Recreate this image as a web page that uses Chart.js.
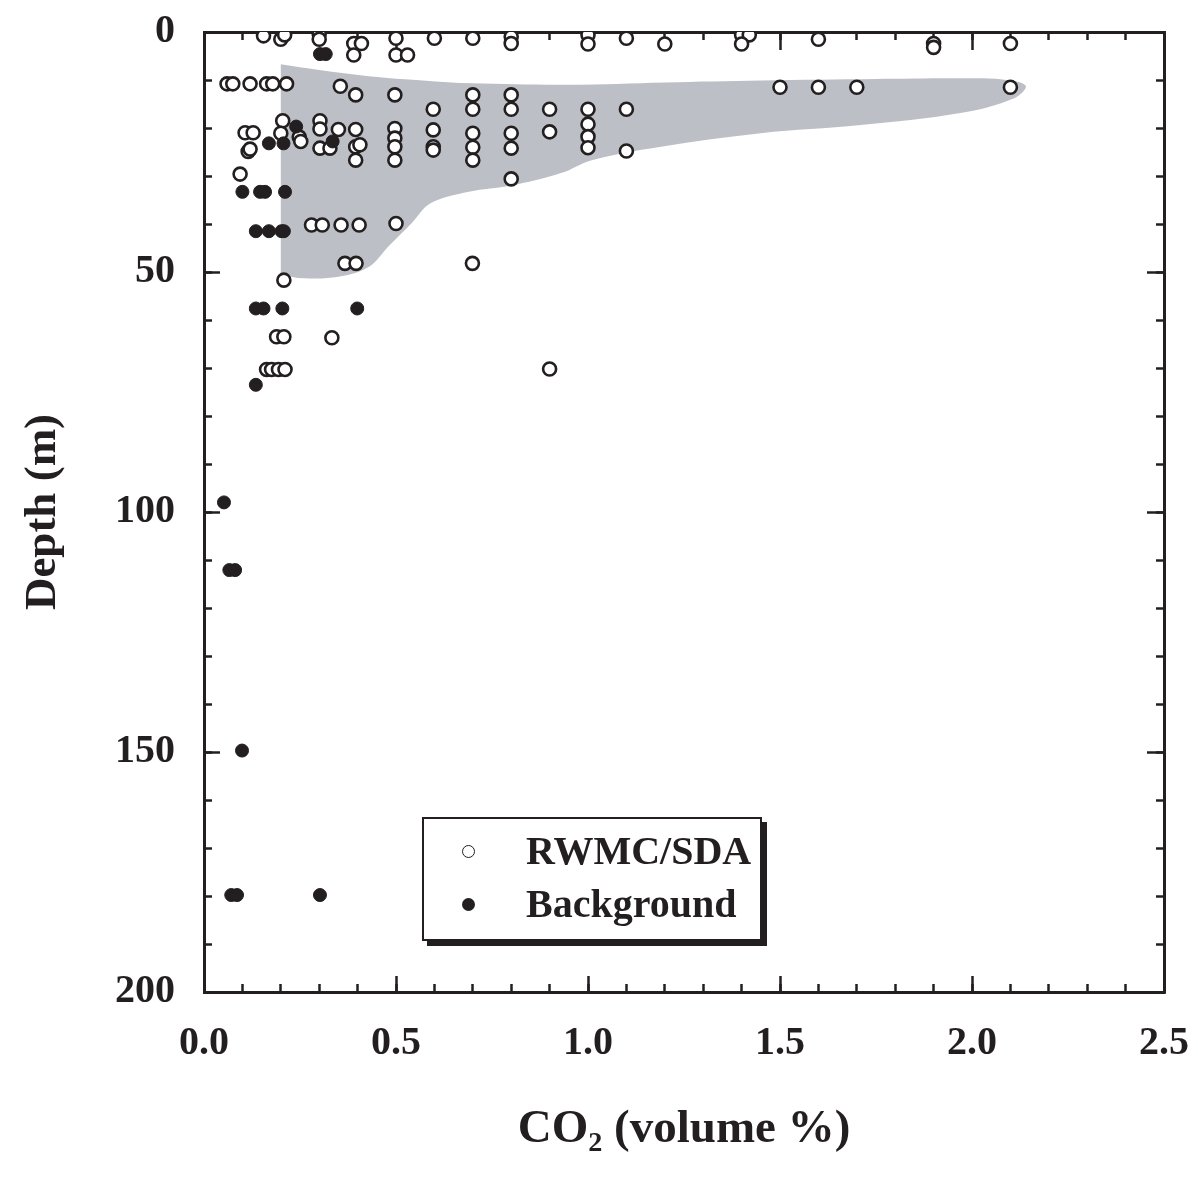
<!DOCTYPE html>
<html>
<head>
<meta charset="utf-8">
<script src="https://cdn.jsdelivr.net/npm/chart.js@4.4.1/dist/chart.umd.min.js"></script>
<style>
  body { margin: 0; background: #fff; }
  #wrap { position: relative; width: 1198px; height: 1178px; }
  #legend {
    position: absolute; left: 422px; top: 817px; width: 340px; height: 124px;
    box-sizing: border-box; border: 2px solid #231f20; box-shadow: 5px 5px 0 #231f20;
    background: #fff; color: #231f20;
    font: bold 40px 'Liberation Serif', 'Times New Roman', serif;
  }
  #legend ul { list-style: none; margin: 0; padding: 0; }
  #legend li { position: absolute; left: 0; width: 100%; height: 50px; line-height: 50px; }
  #legend .mark { position: absolute; left: 38px; top: 19px; width: 13px; height: 13px; border-radius: 50%; box-sizing: border-box; }
  #legend .txt { position: absolute; left: 102px; white-space: nowrap; }
</style>
</head>
<body>
<div id="wrap">
  <canvas id="co2-depth"></canvas>
  <div id="legend"><ul></ul></div>
</div>
<script>
// RWMC/SDA samples (open circles): CO2 volume % and depth in m
const rwmcCO2 = [
  0.155, 0.20, 0.21, 0.30, 0.30, 0.39, 0.41, 0.39, 0.50, 0.50, 0.53, 0.60, 0.70, 0.80, 0.80,
  1.00, 1.00, 1.10, 1.20, 1.40, 1.42, 1.40, 1.60, 1.90, 1.90, 2.10,
  0.06, 0.075, 0.12, 0.163, 0.179, 0.215, 0.355, 0.395, 0.497, 0.597, 0.70, 0.70, 0.80, 0.80,
  0.90, 1.00, 1.10, 1.50, 1.60, 1.70, 2.10,
  0.205, 0.20, 0.107, 0.128, 0.115, 0.12, 0.094, 0.302, 0.302, 0.35, 0.395, 0.497, 0.497, 0.497,
  0.597, 0.597, 0.597, 0.70, 0.70, 0.70, 0.80, 0.80, 0.80, 0.90, 1.00, 1.00, 1.00, 1.10,
  0.248, 0.252, 0.302, 0.328, 0.395, 0.406, 0.395, 0.497,
  0.28, 0.308, 0.357, 0.404, 0.50, 0.367, 0.396, 0.699, 0.208, 0.189, 0.208, 0.333,
  0.163, 0.176, 0.194, 0.211, 0.90,
];
const rwmcDepth = [
  0.8, 1.5, 0.6, 0.4, 1.5, 2.4, 2.4, 4.8, 1.3, 4.8, 4.8, 1.3, 1.3, 1.0, 2.4,
  0.6, 2.5, 1.3, 2.5, 0.6, 0.6, 2.5, 1.5, 2.4, 3.2, 2.4,
  10.8, 10.8, 10.8, 10.8, 10.8, 10.8, 11.3, 13.1, 13.1, 16.1, 13.1, 16.1, 13.1, 16.1,
  16.1, 16.1, 16.1, 11.5, 11.5, 11.5, 11.5,
  18.5, 21.1, 21.0, 21.0, 24.9, 24.4, 29.6, 18.5, 20.2, 20.3, 20.3, 20.1, 22.1, 23.9,
  20.4, 23.9, 24.6, 21.1, 24.0, 26.7, 21.1, 24.2, 30.6, 20.8, 19.2, 21.8, 24.1, 24.8,
  21.9, 22.8, 24.2, 24.2, 23.9, 23.5, 26.7, 26.7,
  40.2, 40.2, 40.2, 40.2, 39.9, 48.2, 48.2, 48.2, 51.7, 63.5, 63.5, 63.7,
  70.3, 70.3, 70.3, 70.3, 70.2,
];

// Background samples (filled circles)
const bgCO2 = [
  0.302, 0.317, 0.24, 0.169, 0.207, 0.335, 0.10, 0.146, 0.159, 0.211, 0.135, 0.169, 0.202, 0.208,
  0.135, 0.155, 0.204, 0.399, 0.135, 0.052, 0.066, 0.081, 0.099, 0.071, 0.086, 0.302,
];
const bgDepth = [
  4.6, 4.6, 19.7, 23.2, 23.2, 22.8, 33.3, 33.3, 33.3, 33.3, 41.5, 41.5, 41.5, 41.5,
  57.6, 57.6, 57.6, 57.6, 73.5, 98.0, 112.1, 112.1, 149.7, 179.8, 179.8, 179.8,
];

// Outline of the grey plume envelope
const shadeCO2 = [
  0.20, 0.30, 0.43, 0.57, 0.70, 0.95, 1.20, 1.45, 1.75, 1.97, 2.08, 2.14, 2.11, 1.97, 1.71,
  1.45, 1.19, 1.01, 0.93, 0.80, 0.69, 0.59, 0.54, 0.48, 0.43, 0.35, 0.26, 0.20,
];
const shadeDepth = [
  6.7, 7.9, 9.2, 10.1, 10.7, 11.0, 10.5, 10.1, 9.8, 9.65, 9.9, 11.2, 13.8, 16.9, 19.4,
  21.1, 23.9, 26.7, 29.4, 32.0, 33.3, 35.7, 39.9, 44.7, 48.9, 51.0, 51.3, 50.6,
];

const INK = '#231f20';
const SHADE = '#bcc0c6';
const FONT = "'Liberation Serif', 'Times New Roman', serif";

Chart.defaults.font.family = FONT;
Chart.defaults.color = INK;

const toPoints = (xs, ys) => xs.map((x, i) => ({ x, y: ys[i] }));

// tick-only axis pinned to an edge of the plot
const edgeAxis = (axis, position, step, len, border) => ({
  type: 'linear',
  axis,
  position,
  min: 0,
  max: axis === 'x' ? 2.5 : 200,
  reverse: axis === 'y',
  ticks: { display: false, stepSize: step, autoSkip: false, maxTicksLimit: 100 },
  grid: { drawOnChartArea: false, tickLength: len, tickWidth: 2.5, tickColor: INK },
  border: { display: border, width: 3, color: INK },
  title: { display: false },
});

const ctx = document.getElementById('co2-depth');

const chart = new Chart(ctx, {
  type: 'scatter',
  data: {
    datasets: [
      {
        label: 'Background',
        data: toPoints(bgCO2, bgDepth),
        pointRadius: 6.5,
        pointBackgroundColor: INK,
        pointBorderColor: INK,
        pointBorderWidth: 1,
        order: 1,
      },
      {
        label: 'RWMC/SDA',
        data: toPoints(rwmcCO2, rwmcDepth),
        pointRadius: 6.5,
        pointBackgroundColor: '#fff',
        pointBorderColor: INK,
        pointBorderWidth: 2.6,
        order: 2,
      },
      {
        label: 'envelope',
        data: toPoints(shadeCO2, shadeDepth),
        showLine: true,
        fill: 'shape',
        backgroundColor: SHADE,
        borderWidth: 0,
        borderColor: 'rgba(0,0,0,0)',
        pointRadius: 0,
        tension: 0.35,
        order: 3,
      },
    ],
  },
  options: {
    responsive: true,
    maintainAspectRatio: false,
    animation: false,
    layout: { padding: { top: 32, right: 34, left: 0, bottom: 0 } },
    scales: {
      x: {
        type: 'linear',
        position: 'bottom',
        min: 0,
        max: 2.5,
        ticks: {
          stepSize: 0.5,
          padding: 44,
          font: { size: 40, weight: 'bold' },
          callback: (v) => v.toFixed(1),
        },
        grid: { drawOnChartArea: false, tickLength: -16, tickWidth: 2.5, tickColor: INK },
        border: { width: 3, color: INK },
        title: {
          display: true,
          text: 'CO₂ (volume %)',
          font: { size: 47, weight: 'bold' },
          padding: { top: 0, bottom: 20 },
        },
        afterFit: (s) => {
          s.height = 186;
          s.paddingLeft = 0;
          s.paddingRight = 0;
        },
      },
      y: {
        type: 'linear',
        position: 'left',
        reverse: true,
        min: 0,
        max: 200,
        ticks: {
          stepSize: 50,
          padding: 45,
          font: { size: 40, weight: 'bold' },
        },
        grid: { drawOnChartArea: false, tickLength: -16, tickWidth: 2.5, tickColor: INK },
        border: { width: 3, color: INK },
        title: {
          display: true,
          text: 'Depth (m)',
          font: { size: 45, weight: 'bold' },
          padding: { top: 16, bottom: 0 },
        },
        afterFit: (s) => {
          s.width = 204;
          s.paddingTop = 0;
          s.paddingBottom = 0;
        },
      },
      xMinorBottom: edgeAxis('x', { y: 200 }, 0.1, -8, false),
      xMajorTop: edgeAxis('x', { y: 0 }, 0.5, 16, true),
      xMinorTop: edgeAxis('x', { y: 0 }, 0.1, 8, false),
      yMinorLeft: edgeAxis('y', { x: 0 }, 10, -8, false),
      yMajorRight: edgeAxis('y', { x: 2.5 }, 50, 16, true),
      yMinorRight: edgeAxis('y', { x: 2.5 }, 10, 8, false),
    },
    plugins: {
      legend: { display: false },
      tooltip: { enabled: false },
    },
  },
});

// HTML legend for the two sample groups
const ul = document.querySelector('#legend ul');
['RWMC/SDA', 'Background'].forEach((name, i) => {
  const ds = chart.data.datasets.find((d) => d.label === name);
  const li = document.createElement('li');
  li.style.top = (i === 0 ? 7 : 60) + 'px';
  const mark = document.createElement('span');
  mark.className = 'mark';
  mark.style.background = ds.pointBackgroundColor;
  mark.style.border = (name === 'Background' ? 0 : 1.5) + 'px solid ' + INK;
  const txt = document.createElement('span');
  txt.className = 'txt';
  txt.textContent = name;
  li.appendChild(mark);
  li.appendChild(txt);
  ul.appendChild(li);
});
</script>
</body>
</html>
